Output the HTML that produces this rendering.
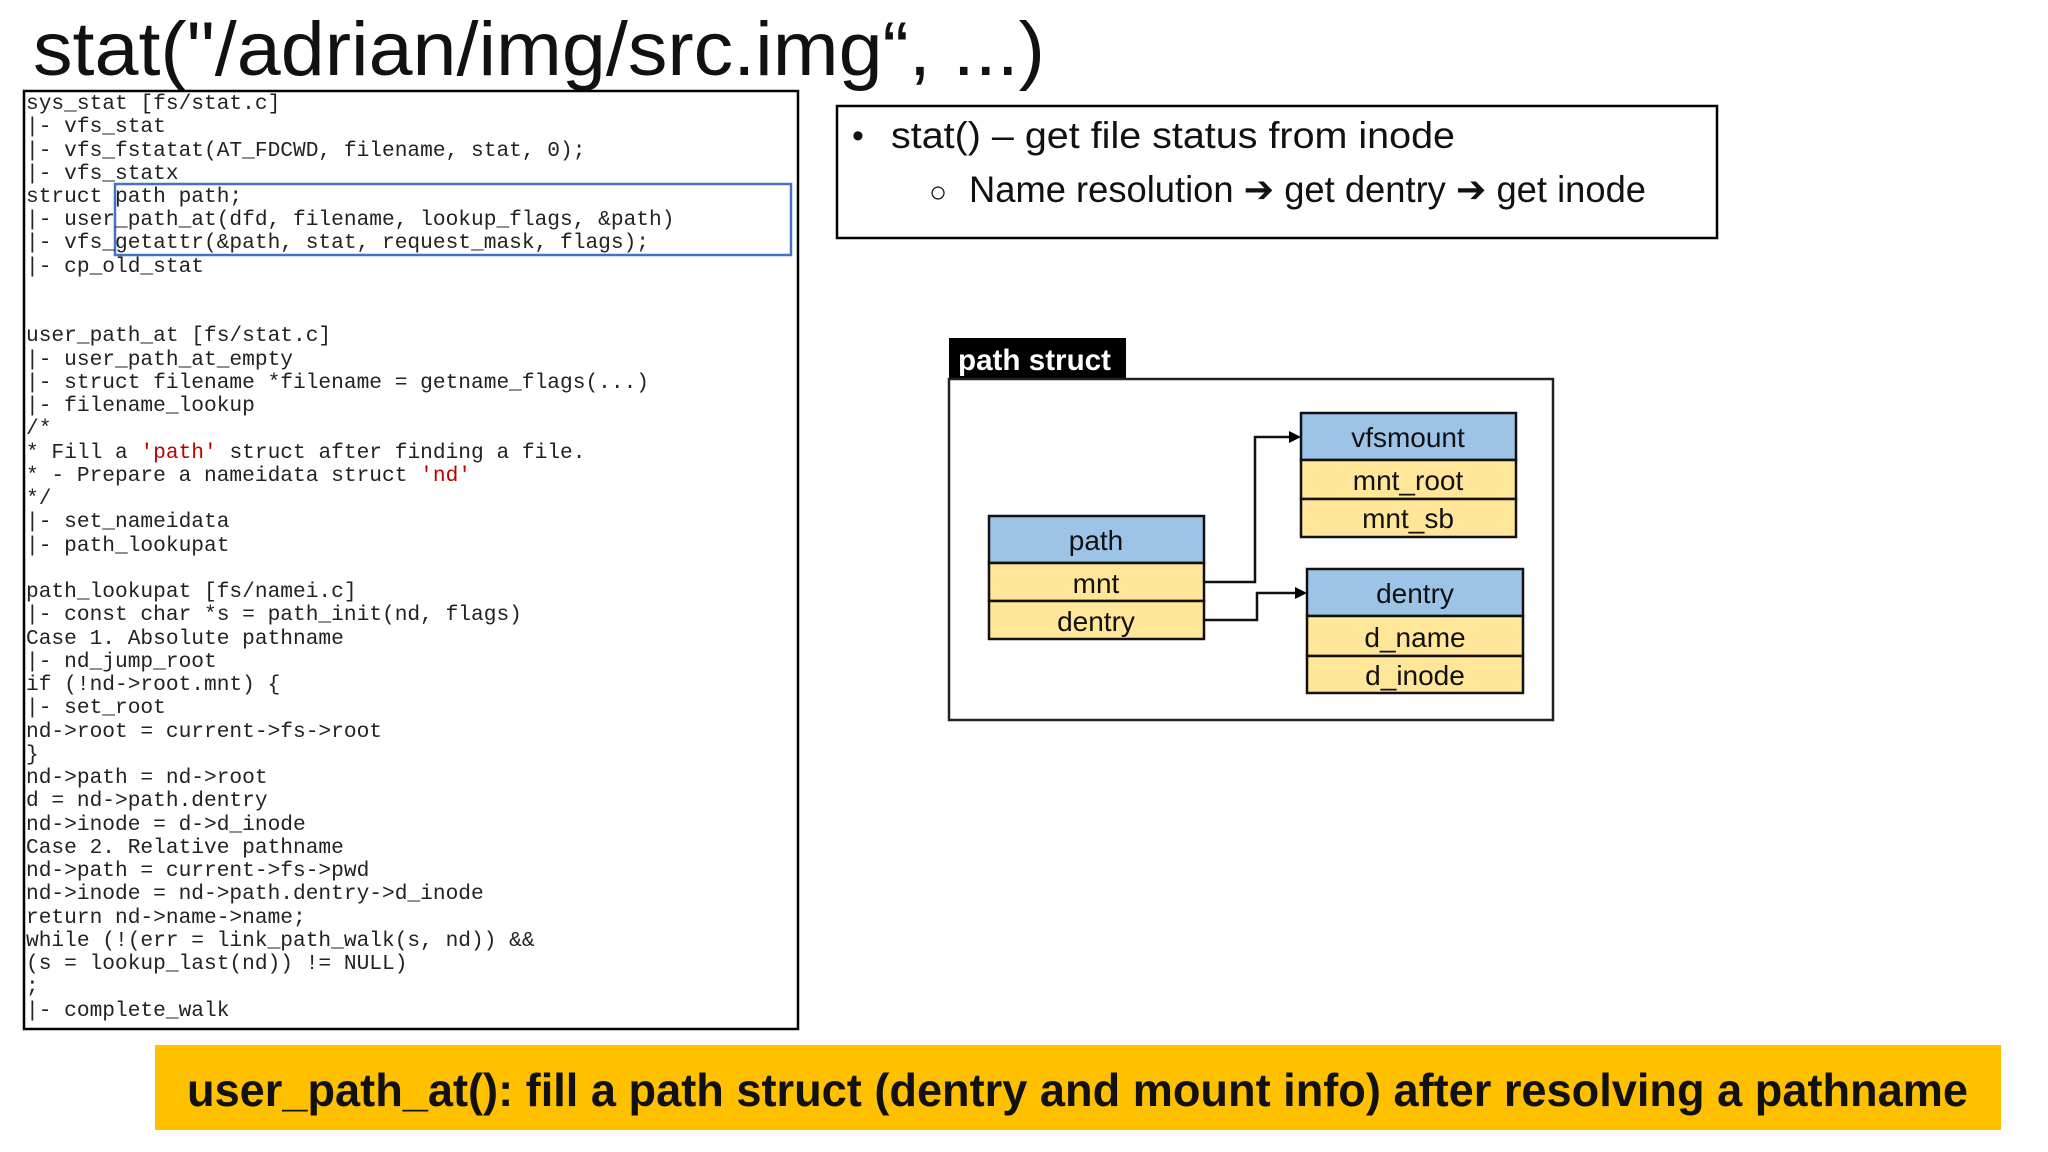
<!DOCTYPE html>
<html><head><meta charset="utf-8"><style>
html,body{margin:0;padding:0;background:#fff;}
svg{display:block;}
.c{font-family:"Liberation Mono",monospace;font-size:21.2px;fill:#222;white-space:pre;}
.r{fill:#c00000;}
.s{font-family:"Liberation Sans","DejaVu Sans",sans-serif;}
</style></head><body>
<svg width="2048" height="1152" viewBox="0 0 2048 1152" xmlns="http://www.w3.org/2000/svg">
<rect width="2048" height="1152" fill="#fff"/>
<text class="s" x="33" y="75" font-size="76" textLength="1012" lengthAdjust="spacingAndGlyphs" fill="#111">stat("/adrian/img/src.img“, ...)</text>

<rect x="24" y="91" width="774" height="938" fill="none" stroke="#000" stroke-width="2.5"/>
<rect x="115" y="184" width="676" height="71" fill="none" stroke="#4472c4" stroke-width="2.5"/>
<g class="c">
<text x="26" y="109">sys_stat [fs/stat.c]</text>
<text x="26" y="132">  |- vfs_stat</text>
<text x="26" y="156">    |- vfs_fstatat(AT_FDCWD, filename, stat, 0);</text>
<text x="26" y="179">      |- vfs_statx</text>
<text x="26" y="202">        struct path path;</text>
<text x="26" y="225">        |- user_path_at(dfd, filename, lookup_flags, &amp;path)</text>
<text x="26" y="248">        |- vfs_getattr(&amp;path, stat, request_mask, flags);</text>
<text x="26" y="272">  |- cp_old_stat</text>
<text x="26" y="341">user_path_at [fs/stat.c]</text>
<text x="26" y="365">  |- user_path_at_empty</text>
<text x="26" y="388">    |- struct filename *filename = getname_flags(...)</text>
<text x="26" y="411">    |- filename_lookup</text>
<text x="26" y="434">      /*</text>
<text x="26" y="458">       * Fill a <tspan class="r">'path'</tspan> struct after finding a file.</text>
<text x="26" y="481">       *   - Prepare a nameidata struct <tspan class="r">'nd'</tspan></text>
<text x="26" y="504">       */</text>
<text x="26" y="527">      |- set_nameidata</text>
<text x="26" y="551">      |- path_lookupat</text>
<text x="26" y="597">path_lookupat [fs/namei.c]</text>
<text x="26" y="620">  |- const char *s = path_init(nd, flags)</text>
<text x="26" y="644">    Case 1. Absolute pathname</text>
<text x="26" y="667">      |- nd_jump_root</text>
<text x="26" y="690">        if (!nd-&gt;root.mnt) {</text>
<text x="26" y="713">          |- set_root</text>
<text x="26" y="737">            nd-&gt;root = current-&gt;fs-&gt;root</text>
<text x="26" y="760">        }</text>
<text x="26" y="783">        nd-&gt;path = nd-&gt;root</text>
<text x="26" y="806">        d = nd-&gt;path.dentry</text>
<text x="26" y="830">        nd-&gt;inode = d-&gt;d_inode</text>
<text x="26" y="853">    Case 2. Relative pathname</text>
<text x="26" y="876">       nd-&gt;path = current-&gt;fs-&gt;pwd</text>
<text x="26" y="899">       nd-&gt;inode = nd-&gt;path.dentry-&gt;d_inode</text>
<text x="26" y="923">    return nd-&gt;name-&gt;name;</text>
<text x="26" y="946">  while (!(err = link_path_walk(s, nd)) &amp;&amp;</text>
<text x="26" y="969">         (s = lookup_last(nd)) != NULL)</text>
<text x="26" y="992">           ;</text>
<text x="26" y="1016">  |- complete_walk</text>
</g>

<rect x="837" y="106" width="880" height="132" fill="none" stroke="#000" stroke-width="2.5"/>
<text class="s" x="852" y="147" font-size="34" fill="#111">•</text>
<text class="s" x="891" y="148" font-size="37" textLength="564" lengthAdjust="spacingAndGlyphs" fill="#111">stat() – get file status from inode</text>
<text class="s" x="929" y="202" font-size="30" fill="#111">○</text>
<text class="s" x="969" y="202" font-size="37" textLength="677" lengthAdjust="spacingAndGlyphs" fill="#111">Name resolution ➔ get dentry ➔ get inode</text>

<rect x="949" y="338" width="177" height="42" fill="#000"/>
<text class="s" x="958" y="370" font-size="30" font-weight="bold" fill="#fff" textLength="153" lengthAdjust="spacingAndGlyphs">path struct</text>
<rect x="949" y="379" width="604" height="341" fill="none" stroke="#222" stroke-width="2.5"/>

<g stroke="#111" stroke-width="2.5">
<rect x="989" y="516" width="215" height="47" fill="#9dc3e6"/>
<rect x="989" y="563" width="215" height="38" fill="#ffe699"/>
<rect x="989" y="601" width="215" height="38" fill="#ffe699"/>
<rect x="1301" y="413" width="215" height="47" fill="#9dc3e6"/>
<rect x="1301" y="460" width="215" height="39" fill="#ffe699"/>
<rect x="1301" y="499" width="215" height="38" fill="#ffe699"/>
<rect x="1307" y="569" width="216" height="47" fill="#9dc3e6"/>
<rect x="1307" y="616" width="216" height="40" fill="#ffe699"/>
<rect x="1307" y="656" width="216" height="37" fill="#ffe699"/>
<polyline points="1204,582 1255,582 1255,437 1290,437" fill="none"/>
<polyline points="1204,620 1257,620 1257,593 1296,593" fill="none"/>
</g>
<polygon points="1301,437 1289,431 1289,443" fill="#000"/>
<polygon points="1307,593 1295,587 1295,599" fill="#000"/>
<g class="s" font-size="28" fill="#111" text-anchor="middle">
<text x="1096" y="550">path</text>
<text x="1096" y="593">mnt</text>
<text x="1096" y="631">dentry</text>
<text x="1408" y="447">vfsmount</text>
<text x="1408" y="490">mnt_root</text>
<text x="1408" y="528">mnt_sb</text>
<text x="1415" y="603">dentry</text>
<text x="1415" y="647">d_name</text>
<text x="1415" y="685">d_inode</text>
</g>

<rect x="155" y="1045" width="1846" height="85" fill="#ffc000"/>
<text class="s" x="187" y="1106" font-size="46" font-weight="bold" fill="#111" textLength="1781" lengthAdjust="spacingAndGlyphs">user_path_at(): fill a path struct (dentry and mount info) after resolving a pathname</text>
</svg>
</body></html>
